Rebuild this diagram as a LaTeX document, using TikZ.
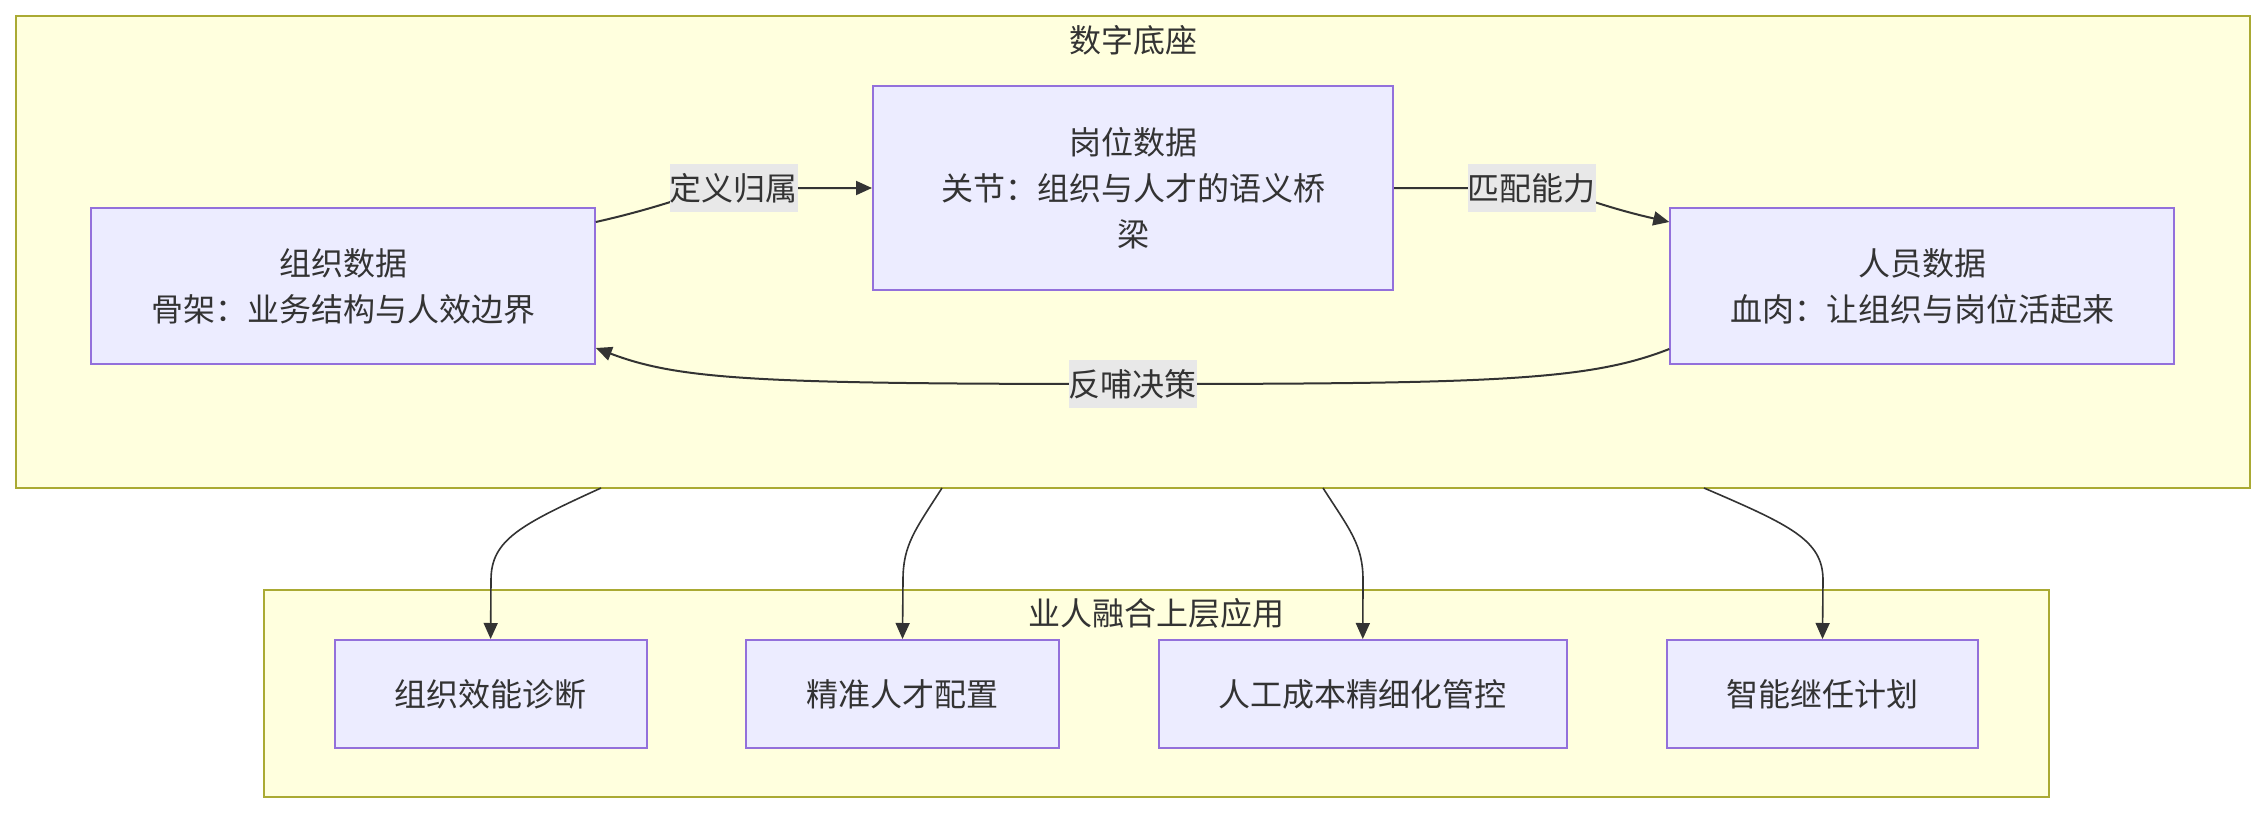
\documentclass[tikz,border=0pt]{standalone}
\usepackage{fontspec}
\setmainfont{Noto Sans CJK SC}
\usetikzlibrary{arrows.meta}
\definecolor{clfill}{HTML}{FFFFDE}
\definecolor{clstroke}{HTML}{AAAA33}
\definecolor{ndfill}{HTML}{ECECFF}
\definecolor{ndstroke}{HTML}{9370DB}
\definecolor{txt}{HTML}{333333}
\definecolor{lblbg}{HTML}{E8E8E8}
\tikzset{
  cluster/.style={draw=clstroke,fill=clfill,line width=1.2pt},
  ctitle/.style={text=txt,font=\fontsize{16pt}{23pt}\selectfont,inner sep=0pt},
  box/.style={draw=ndstroke,fill=ndfill,line width=1pt,text=txt,align=center,
    font=\fontsize{16pt}{23pt}\selectfont,inner sep=0pt},
  elabel/.style={fill=lblbg,text=txt,font=\fontsize{16pt}{23pt}\selectfont,
    inner xsep=0pt,inner ysep=0pt,minimum height=24pt},
  edge/.style={draw=txt,line width=1pt,-{Triangle[length=8pt,width=7pt]}},
  dedge/.style={draw=txt,line width=0.8pt,-{Triangle[length=8pt,width=7pt]}}
}
\begin{document}
\begin{tikzpicture}[x=0.5pt,y=-0.5pt]
\useasboundingbox (0,0) rectangle (2266,814);
% clusters
\draw[cluster] (16,16) rectangle (2250,488);
\node[ctitle] (t1) at (1133,40) {数字底座};
\draw[cluster] (264,590) rectangle (2049,797);
\node[ctitle] (t2) at (1156,613) {业人融合上层应用};
% top nodes
\node[box,minimum width=251.8pt,minimum height=78pt] (org) at (343,286) {组织数据\\骨架：业务结构与人效边界};
\node[box,minimum width=260pt,minimum height=102pt] (pos) at (1133,188) {岗位数据\\关节：组织与人才的语义桥\\梁};
\node[box,minimum width=251.7pt,minimum height=78pt] (ppl) at (1922,286) {人员数据\\血肉：让组织与岗位活起来};
% bottom nodes
\node[box,minimum width=156pt,minimum height=54pt] (b1) at (490.6,694) {组织效能诊断};
\node[box,minimum width=156.5pt,minimum height=54pt] (b2) at (902.5,694) {精准人才配置};
\node[box,minimum width=203.75pt,minimum height=54pt] (b3) at (1362.8,694) {人工成本精细化管控};
\node[box,minimum width=155.5pt,minimum height=54pt] (b4) at (1822.5,694) {智能继任计划};
% edges top
\draw[edge] (org.east |- 0,222) .. controls (680,203) and (700,188) .. (733,188) -- (pos.west);
\node[elabel] (l1) at (733.5,188) {定义归属};
\draw[edge] (pos.east) -- (1531,188) .. controls (1566,188) and (1586,203) .. (ppl.west |- 0,222);
\node[elabel] (l2) at (1531.5,188) {匹配能力};
\draw[edge] (ppl.west |- 0,349) .. controls (1590,380) and (1500,384) .. (1133,384)
  .. controls (760,384) and (680,380) .. (org.east |- 0,348);
\node[elabel] (l3) at (1132.5,384) {反哺决策};
% edges bottom
\coordinate (s1) at (601,488);
\coordinate (s2) at (942,488);
\coordinate (s3) at (1323,488);
\coordinate (s4) at (1704,488);
\draw[dedge] (s1) .. controls (520,525) and (491,540) .. (491,580) -- (b1.north);
\draw[dedge] (s2) .. controls (915,530) and (903,545) .. (903,580) -- (b2.north);
\draw[dedge] (s3) .. controls (1350,530) and (1363,545) .. (1363,580) -- (b3.north);
\draw[dedge] (s4) .. controls (1790,525) and (1823,540) .. (1823,580) -- (b4.north);
\end{tikzpicture}
\end{document}
